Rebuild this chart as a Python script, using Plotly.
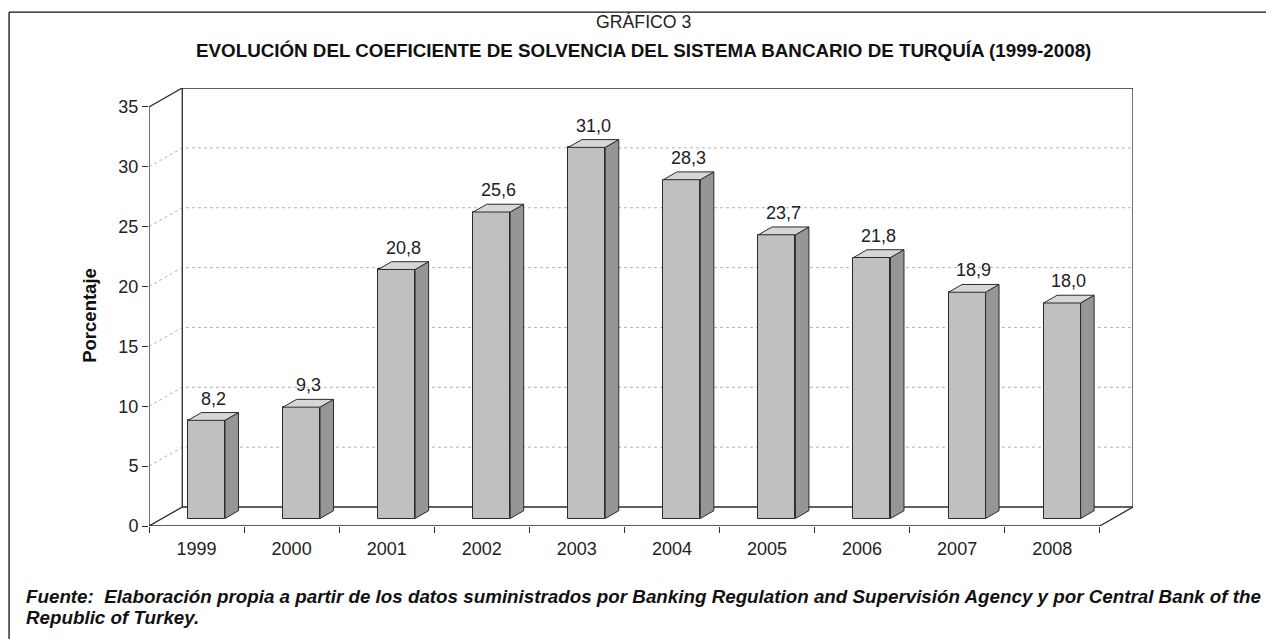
import plotly.graph_objects as go

# ---------------- data ----------------
years = ["1999", "2000", "2001", "2002", "2003", "2004", "2005", "2006", "2007", "2008"]
values = [8.2, 9.3, 20.8, 25.6, 31.0, 28.3, 23.7, 21.8, 18.9, 18.0]
y_ticks = [0, 5, 10, 15, 20, 25, 30, 35]

title_top = "GRÁFICO 3"
title_main = "EVOLUCIÓN DEL COEFICIENTE DE SOLVENCIA DEL SISTEMA BANCARIO DE TURQUÍA (1999-2008)"
y_title = "Porcentaje"
source_1 = "Fuente:  Elaboración propia a partir de los datos suministrados por Banking Regulation and Supervisión Agency y por Central Bank of the"
source_2 = "Republic of Turkey."

# ---------------- geometry / style ----------------
W_PX, H_PX = 1266, 639
L, R, T, B = 149, 132.5, 88, 112.5
PW, PH = W_PX - L - R, H_PX - T - B

N = len(years)
YMAX = y_ticks[-1]
DX, DY = 0.35, 1.585          # depth of the 3D box (x units, y units)
A, BW, B0 = 0.41, 0.389, 0.626  # bar front-face offset, width, base
DDX, DDY = 0.142, 0.65        # bar depth

FONT = "Liberation Sans, Arial, Helvetica, sans-serif"
DARK = "#2b2b2b"
FRONT = "#bfc0c2"
SIDE = "#959698"
TOP = "#d6d6d7"


def px_x(p):
    return (p - L) / PW


def px_y(p):
    return (H_PX - B - p) / PH


fig = go.Figure()

# bar front faces
fig.add_trace(go.Bar(x=[i + A + BW / 2 for i in range(N)], y=values, base=B0, width=BW,
                     marker=dict(color=FRONT, line=dict(color=DARK, width=1)),
                     hoverinfo="skip", showlegend=False))

# side faces and top faces
sx, sy, tx, ty = [], [], [], []
for i, v in enumerate(values):
    x0 = i + A
    x1 = x0 + BW
    top = B0 + v
    sx += [x1, x1 + DDX, x1 + DDX, x1, x1, None]
    sy += [B0, B0 + DDY, top + DDY, top, B0, None]
    tx += [x0, x1, x1 + DDX, x0 + DDX, x0, None]
    ty += [top, top, top + DDY, top + DDY, top, None]
fig.add_trace(go.Scatter(x=sx, y=sy, mode="lines", fill="toself", fillcolor=SIDE,
                         line=dict(color=DARK, width=1), hoverinfo="skip", showlegend=False))
fig.add_trace(go.Scatter(x=tx, y=ty, mode="lines", fill="toself", fillcolor=TOP,
                         line=dict(color=DARK, width=1), hoverinfo="skip", showlegend=False))

# dummy trace for the label axis
fig.add_trace(go.Scatter(x=[0.5], y=[0], xaxis="x2", yaxis="y", mode="markers",
                         marker=dict(opacity=0), hoverinfo="skip", showlegend=False))

shapes = []
# dotted gridlines on back and left walls (below the bars)
for t in y_ticks[1:-1]:
    shapes.append(dict(type="path", xref="x", yref="y", layer="below",
                       path=f"M0,{t} L{DX},{t + DY} L{N + DX},{t + DY}",
                       line=dict(color="#b3b3b3", width=1, dash="3px,3px")))
# solid box frame (below the bars)
frame = [
    [(0, 0), (0, YMAX), (DX, YMAX + DY), (N + DX, YMAX + DY), (N + DX, DY), (N, 0), (0, 0), (DX, DY), (DX, YMAX + DY)],
    [(DX, DY), (N + DX, DY)],
]
for seg in frame:
    path = "M" + " L".join(f"{x},{y}" for x, y in seg)
    shapes.append(dict(type="path", xref="x", yref="y", layer="below", path=path,
                       line=dict(color=DARK, width=1.3)))
# outer page border
shapes += [
    dict(type="line", xref="paper", yref="paper", x0=px_x(9), y0=px_y(12), x1=px_x(1270), y1=px_y(12),
         line=dict(color="#111", width=1.3)),
    dict(type="line", xref="paper", yref="paper", x0=px_x(9), y0=px_y(12), x1=px_x(9), y1=px_y(645),
         line=dict(color="#111", width=1.3)),
]

annotations = []
for i, v in enumerate(values):
    annotations.append(dict(x=i + A + (BW + DDX) / 2, y=B0 + v + DDY, xref="x", yref="y",
                            text=f"{v:.1f}".replace(".", ","), showarrow=False,
                            yanchor="bottom", yshift=2,
                            font=dict(family=FONT, size=18, color="#222")))

annotations += [
    dict(x=px_x(644), y=px_y(22), xref="paper", yref="paper", text=title_top, showarrow=False,
         xanchor="center", yanchor="middle", font=dict(family=FONT, size=17.7, color="#222")),
    dict(x=px_x(643.5), y=px_y(50), xref="paper", yref="paper", text=f"<b>{title_main}</b>",
         showarrow=False, xanchor="center", yanchor="middle",
         font=dict(family=FONT, size=18.8, color="#111")),
    dict(x=px_x(90), y=px_y(316), xref="paper", yref="paper", text=f"<b>{y_title}</b>",
         showarrow=False, textangle=-90, xanchor="center", yanchor="middle",
         font=dict(family=FONT, size=18.5, color="#111")),
    dict(x=px_x(24), y=px_y(597), xref="paper", yref="paper", text=f"<b><i>{source_1}</i></b>",
         showarrow=False, xanchor="left", yanchor="middle",
         font=dict(family=FONT, size=18.8, color="#111")),
    dict(x=px_x(24), y=px_y(618), xref="paper", yref="paper", text=f"<b><i>{source_2}</i></b>",
         showarrow=False, xanchor="left", yanchor="middle",
         font=dict(family=FONT, size=18.8, color="#111")),
]

fig.update_layout(
    width=W_PX, height=H_PX,
    margin=dict(l=L, r=R, t=T, b=B, pad=0),
    paper_bgcolor="white", plot_bgcolor="white",
    showlegend=False,
    font=dict(family=FONT, size=18, color="#222"),
    annotations=annotations,
    shapes=shapes,
    xaxis=dict(range=[0, N + DX], tickvals=list(range(N + 1)), ticks="outside", ticklen=6,
               tickcolor=DARK, tickwidth=1.3, showticklabels=False, showgrid=False,
               zeroline=False, showline=False, fixedrange=True),
    xaxis2=dict(range=[0, N + DX], overlaying="x", anchor="y", side="bottom",
                tickvals=[i + 0.5 for i in range(N)], ticktext=years,
                ticks="outside", ticklen=6, tickcolor="rgba(0,0,0,0)",
                tickfont=dict(family=FONT, size=18, color="#222"),
                showgrid=False, zeroline=False, showline=False, fixedrange=True),
    yaxis=dict(range=[0, YMAX + DY], tickvals=y_ticks, ticks="outside", ticklen=6,
               tickcolor=DARK, tickwidth=1.3, showgrid=False, zeroline=False, showline=False,
               tickfont=dict(family=FONT, size=18, color="#222"), fixedrange=True),
    bargap=0,
)

fig.write_html("out.html", config={"displayModeBar": False},
               post_script="document.body.style.margin='0';")
